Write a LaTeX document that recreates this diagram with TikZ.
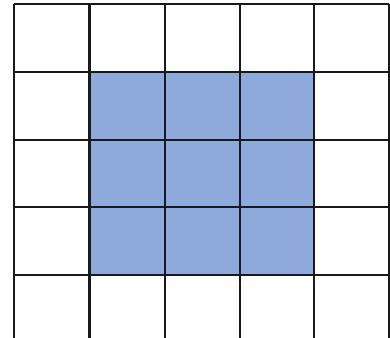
\documentclass[tikz,border=0pt]{standalone}
\usepackage{tikz}
\definecolor{cellblue}{RGB}{142,169,219}
\begin{document}
\begin{tikzpicture}[
  x=0.02cm, y=-0.02cm,
  gridline/.style={draw=black!90, line width=1.3pt},
  filled/.style={fill=cellblue}
]
  \useasboundingbox (0,0) rectangle (390,338);
  \fill[filled] (89.5,72) rectangle (314,275);
  \foreach \xpos in {14,89.5,165,240,314,389}
    \draw[gridline] (\xpos,4) -- (\xpos,340);
  \foreach \ypos in {4,72,140,207,275}
    \draw[gridline] (14,\ypos) -- (389,\ypos);
\end{tikzpicture}
\end{document}
